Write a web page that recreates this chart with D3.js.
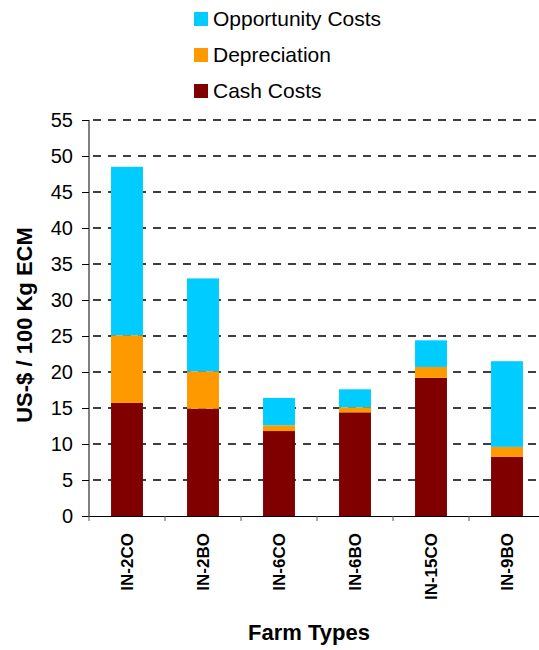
<!DOCTYPE html>
<html><head><meta charset="utf-8">
<script src="https://cdn.jsdelivr.net/npm/d3@7"></script>
<style>body{margin:0;background:#fff}svg{display:block}</style>
</head><body>
<svg id="c" width="539" height="650"></svg>
<script>
const categories = ["IN-2CO","IN-2BO","IN-6CO","IN-6BO","IN-15CO","IN-9BO"];
const cashCosts = [15.7, 14.9, 11.8, 14.4, 19.2, 8.2];
const depreciation = [9.4, 5.2, 0.8, 0.7, 1.5, 1.4];
const opportunityCosts = [23.4, 12.9, 3.8, 2.5, 3.7, 11.9];
const seriesNames = ["Cash Costs","Depreciation","Opportunity Costs"];
const seriesColors = ["#800000","#FF9900","#00CCFF"];
const yTicks = [0,5,10,15,20,25,30,35,40,45,50,55];

const svg = d3.select("#c");
const font = "'Liberation Sans', Arial, sans-serif";
const L = 89, R = 545, T = 120, B = 516;

const rows = categories.map((c,i)=>({cat:c,"Cash Costs":cashCosts[i],"Depreciation":depreciation[i],"Opportunity Costs":opportunityCosts[i]}));
const stack = d3.stack().keys(seriesNames)(rows);

const y = d3.scaleLinear().domain([0,55]).range([B,T]);
const xBand = d3.scaleBand().domain(categories).range([L,R]);
const x = d3.scaleBand().domain(categories).range([L,R]).paddingInner(0.58).paddingOuter(0.29);
const color = d3.scaleOrdinal().domain(seriesNames).range(seriesColors);

// gridlines
svg.append("g").selectAll("line").data(yTicks.filter(t=>t>0)).join("line")
  .attr("x1",L).attr("x2",539).attr("y1",d=>y(d)).attr("y2",d=>y(d))
  .attr("stroke","#000").attr("stroke-width",1.6).attr("stroke-dasharray","8,7").attr("stroke-dashoffset",-4);

// bars
svg.append("g").selectAll("g").data(stack).join("g").attr("fill",d=>color(d.key))
  .selectAll("rect").data(d=>d).join("rect")
  .attr("x",d=>x(d.data.cat)).attr("width",x.bandwidth())
  .attr("y",d=>y(d[1])).attr("height",d=>y(d[0])-y(d[1]));

// y axis
const yAxis = svg.append("g").attr("transform",`translate(${L},0)`)
  .call(d3.axisLeft(y).tickValues(yTicks).tickSize(7).tickPadding(9));
yAxis.select(".domain").attr("stroke","#808080").attr("stroke-width",2).attr("d",`M0,${T}V${B}`);
yAxis.selectAll(".tick line").attr("stroke","#000");
yAxis.selectAll(".tick text").attr("font-family",font).attr("font-size",20).attr("fill","#000");

// x axis
svg.append("line").attr("x1",L).attr("x2",539).attr("y1",B+0.5).attr("y2",B+0.5).attr("stroke","#000").attr("stroke-width",1);
svg.append("g").selectAll("line").data(categories).join("line")
  .attr("x1",d=>xBand(d)).attr("x2",d=>xBand(d)).attr("y1",B).attr("y2",B+5)
  .attr("stroke","#555").attr("stroke-width",1);
svg.append("g").selectAll("text").data(categories).join("text")
  .attr("transform",d=>`translate(${x(d)+x.bandwidth()/2+6},533) rotate(-90)`)
  .attr("text-anchor","end").attr("font-family",font).attr("font-weight","bold").attr("font-size",17)
  .text(d=>d);

// axis titles
svg.append("text").attr("transform","translate(32,325) rotate(-90)").attr("text-anchor","middle")
  .attr("font-family",font).attr("font-weight","bold").attr("font-size",22).text("US-$ / 100 Kg ECM");
svg.append("text").attr("x",309).attr("y",640).attr("text-anchor","middle")
  .attr("font-family",font).attr("font-weight","bold").attr("font-size",22).text("Farm Types");

// legend
const legendOrder = ["Opportunity Costs","Depreciation","Cash Costs"];
const lg = svg.append("g").selectAll("g").data(legendOrder).join("g")
  .attr("transform",(d,i)=>`translate(194,${12+i*36})`);
lg.append("rect").attr("width",14).attr("height",14).attr("fill",d=>color(d));
lg.append("text").attr("x",19).attr("y",14).attr("font-family",font).attr("font-size",21).text(d=>d);
</script>
</body></html>
